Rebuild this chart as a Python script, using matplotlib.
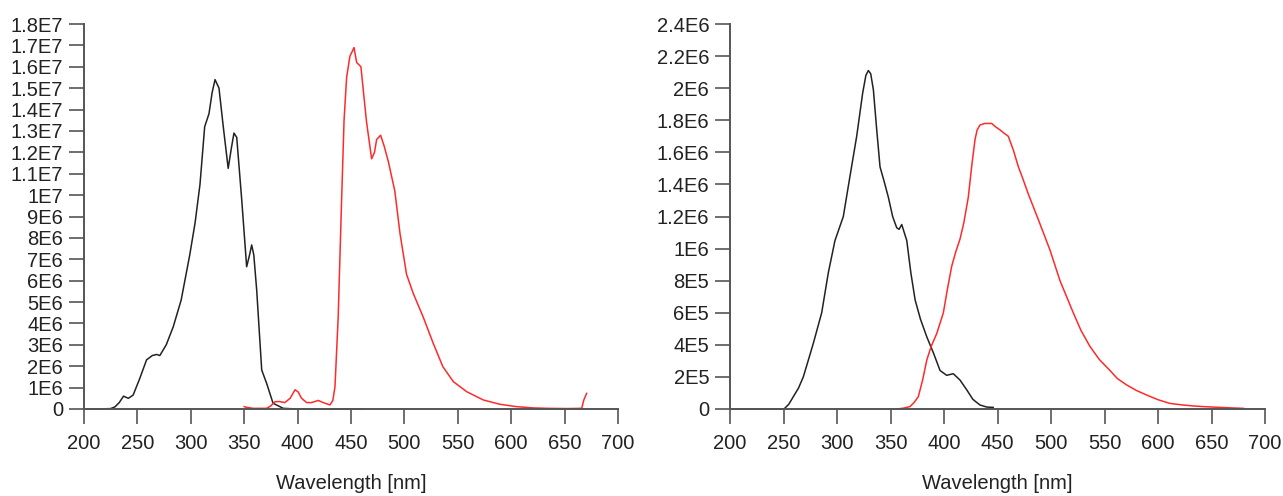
import numpy as np
import matplotlib
matplotlib.use('Agg')
import matplotlib.pyplot as plt

plt.rcParams['font.family'] = ['Liberation Sans', 'DejaVu Sans']

# left panel: excitation (black) and emission (red)
ex1_wl = [200, 215, 225, 229, 233, 237, 241.5, 246, 252, 258.6, 264, 268, 271, 277,
          283.6, 291, 299, 304, 308.6, 313, 317, 320, 322.7, 326.4, 330.4, 335,
          338, 340.4, 343, 347.7, 352.3, 355, 357, 359, 361.7, 366.4, 371, 377,
          386.6, 400, 460]
ex1_int = [0, 0, 0.02e6, 0.1e6, 0.3e6, 0.6e6, 0.5e6, 0.65e6, 1.4e6, 2.3e6, 2.5e6, 2.55e6, 2.5e6, 3.0e6,
           3.85e6, 5.1e6, 7.2e6, 8.7e6, 10.5e6, 13.2e6, 13.8e6, 14.8e6, 15.4e6, 15.0e6, 13.2e6, 11.25e6,
           12.2e6, 12.9e6, 12.7e6, 9.77e6, 6.65e6, 7.2e6, 7.67e6, 7.2e6, 5.56e6, 1.82e6, 1.2e6, 0.27e6,
           0.03e6, 0.0, 0.0]

em1_wl = [350, 352, 358.5, 365, 371, 375, 378.8, 383, 388, 393, 397.6, 400.5, 403.7, 408.5,
          413, 419.4, 424, 430.3, 433, 435, 438, 441.2, 443.5, 445.9, 449, 451, 452.8, 455.3,
          459.3, 461.5, 464.6, 469.3, 472, 474, 477.7, 481, 484.8, 491, 495.9, 502, 508.3,
          517.6, 527, 536, 545.8, 558.3, 574, 589.5, 605, 620.7, 635, 652, 666, 668, 670.6]
em1_int = [0.11e6, 0.08e6, 0.03e6, 0.03e6, 0.03e6, 0.15e6, 0.34e6, 0.35e6, 0.3e6, 0.5e6, 0.9e6, 0.8e6, 0.5e6, 0.3e6,
           0.3e6, 0.4e6, 0.3e6, 0.19e6, 0.4e6, 1.04e6, 4.3e6, 9.77e6, 13.5e6, 15.5e6, 16.5e6, 16.7e6, 16.9e6, 16.2e6,
           16.0e6, 14.9e6, 13.4e6, 11.7e6, 12.0e6, 12.6e6, 12.8e6, 12.3e6, 11.6e6, 10.2e6, 8.2e6, 6.3e6, 5.4e6,
           4.3e6, 3.07e6, 1.98e6, 1.28e6, 0.81e6, 0.42e6, 0.22e6, 0.11e6, 0.05e6, 0.03e6, 0.02e6, 0.03e6, 0.42e6, 0.73e6]

# right panel
ex2_wl = [200, 250.5, 255, 259.2, 264, 268.5, 273, 277.9, 285.7, 291.9, 298.1, 305.9, 312.1, 318.4,
          324, 327, 329.3, 331.5, 334, 337, 340.2, 344, 348, 352, 355.8, 358, 360.5, 365.2, 369, 373,
          378, 383.9, 390.1, 396.3, 402.5, 408.7, 415, 421.2, 427, 433.6, 440, 446]
ex2_int = [0, 0, 0.03e6, 0.077e6, 0.13e6, 0.2e6, 0.3e6, 0.41e6, 0.6e6, 0.85e6, 1.05e6, 1.2e6, 1.45e6, 1.7e6,
           1.97e6, 2.08e6, 2.11e6, 2.09e6, 1.99e6, 1.75e6, 1.51e6, 1.42e6, 1.32e6, 1.2e6, 1.13e6, 1.12e6, 1.15e6,
           1.05e6, 0.85e6, 0.68e6, 0.56e6, 0.45e6, 0.35e6, 0.24e6, 0.21e6, 0.22e6, 0.18e6, 0.12e6, 0.06e6,
           0.025e6, 0.012e6, 0.01e6]

em2_wl = [355.8, 362, 368.2, 372, 376, 380, 383.9, 388, 393.2, 399.4, 403, 407.2, 411, 415, 418.5, 422.7,
          426, 429, 431, 433.6, 438, 444.6, 448, 452.3, 456, 460.1, 465, 469.5, 474, 478.8, 488.2, 499.1, 508.4,
          520.8, 528, 536.4, 545, 555.1, 562, 570.7, 580, 589.4, 600, 611, 622, 632.9, 645, 657.9, 668, 679.7]
em2_int = [0, 0.005e6, 0.015e6, 0.04e6, 0.077e6, 0.18e6, 0.305e6, 0.39e6, 0.47e6, 0.6e6, 0.74e6, 0.89e6,
           0.98e6, 1.06e6, 1.16e6, 1.32e6, 1.52e6, 1.68e6, 1.74e6, 1.77e6, 1.78e6, 1.78e6, 1.76e6, 1.74e6,
           1.72e6, 1.70e6, 1.61e6, 1.51e6, 1.43e6, 1.34e6, 1.18e6, 0.99e6, 0.80e6,
           0.60e6, 0.49e6, 0.39e6, 0.31e6, 0.24e6, 0.19e6, 0.15e6, 0.115e6, 0.087e6, 0.058e6, 0.035e6, 0.026e6,
           0.019e6, 0.014e6, 0.01e6, 0.007e6, 0.004e6]

x_ticks = [200, 250, 300, 350, 400, 450, 500, 550, 600, 650, 700]
y1_ticks = [i * 1e6 for i in range(0, 19)]
y1_labels = ['0', '1E6', '2E6', '3E6', '4E6', '5E6', '6E6', '7E6', '8E6', '9E6', '1E7',
             '1.1E7', '1.2E7', '1.3E7', '1.4E7', '1.5E7', '1.6E7', '1.7E7', '1.8E7']
y2_ticks = [i * 2e5 for i in range(0, 13)]
y2_labels = ['0', '2E5', '4E5', '6E5', '8E5', '1E6', '1.2E6', '1.4E6', '1.6E6', '1.8E6',
             '2E6', '2.2E6', '2.4E6']

fig = plt.figure(figsize=(12.83, 4.96), dpi=100)
ax1 = fig.add_axes([84 / 1283, 87 / 496, 534 / 1283, 385 / 496])
ax2 = fig.add_axes([730 / 1283, 87 / 496, 535 / 1283, 385 / 496])

panels = [
    (ax1, ex1_wl, ex1_int, em1_wl, em1_int, y1_ticks, y1_labels),
    (ax2, ex2_wl, ex2_int, em2_wl, em2_int, y2_ticks, y2_labels),
]
for ax, xw, xi, ew, ei, yt, yl in panels:
    ax.plot(xw, xi, color='#222222', lw=1.1, clip_on=False)
    ax.plot(ew, ei, color='#ff2a2a', lw=1.1, clip_on=False)
    ax.set_xlim(200, 700)
    ax.set_ylim(yt[0], yt[-1])
    ax.set_xticks(x_ticks)
    ax.set_yticks(yt)
    ax.set_yticklabels(yl)
    for s in ['top', 'right']:
        ax.spines[s].set_visible(False)
    for s in ['left', 'bottom']:
        ax.spines[s].set_color('#555555')
        ax.spines[s].set_linewidth(1.4)
    ax.tick_params(direction='out', length=11, width=1.2, color='#555555',
                   labelsize=14.5, labelcolor='#222222')
    ax.tick_params(axis='x', pad=7)
    ax.tick_params(axis='y', pad=4)
    ax.set_xlabel('Wavelength [nm]', fontsize=14.5, color='#222222', labelpad=15)

plt.savefig('out.png', dpi=100)
print("Saved: out.png")
